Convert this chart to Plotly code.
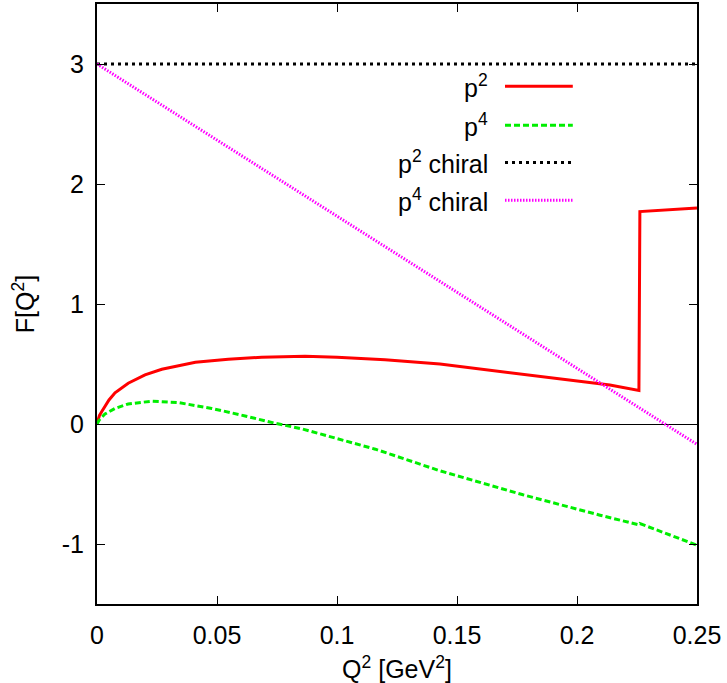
import plotly.graph_objects as go

# p^2 form factor
p2_x = [0, 0.0005, 0.001, 0.002, 0.0033, 0.005, 0.0075, 0.01, 0.013, 0.02, 0.027,
        0.041, 0.0547, 0.0686, 0.0867, 0.1, 0.12, 0.1429, 0.1775, 0.2096, 0.2137,
        0.2258, 0.2262, 0.25]
p2_y = [0, 0.045, 0.07, 0.105, 0.144, 0.2, 0.26, 0.3, 0.34, 0.41, 0.456,
        0.514, 0.54, 0.556, 0.565, 0.557, 0.535, 0.50, 0.415, 0.34, 0.325,
        0.28, 1.77, 1.80]

# p^4 form factor
p4_x = [0, 0.001, 0.0033, 0.0075, 0.013, 0.0228, 0.034, 0.0478, 0.0617, 0.0742,
        0.0853, 0.116, 0.1429, 0.1775, 0.2096, 0.2137, 0.2258, 0.2262, 0.25]
p4_y = [0, 0.035, 0.083, 0.13, 0.167, 0.19, 0.178, 0.13, 0.067, 0.006,
        -0.04, -0.21, -0.39, -0.59, -0.76, -0.78, -0.84, -0.83, -1.01]

# chiral limits
chi2_x = [0, 0.25]
chi2_y = [3.0, 3.0]
chi4_x = [0, 0.25]
chi4_y = [3.0, -0.17]

x_ticks = [0, 0.05, 0.1, 0.15, 0.2, 0.25]
x_labels = ["0", "0.05", "0.1", "0.15", "0.2", "0.25"]
y_ticks = [-1, 0, 1, 2, 3]
y_labels = ["-1", "0", "1", "2", "3"]

series = [
    dict(name="p<sup>2</sup>", x=p2_x, y=p2_y, color="#ff0000", dash="solid"),
    dict(name="p<sup>4</sup>", x=p4_x, y=p4_y, color="#00ee00", dash="6px,3px"),
    dict(name="p<sup>2</sup> chiral", x=chi2_x, y=chi2_y, color="#000000", dash="3px,4px"),
    dict(name="p<sup>4</sup> chiral", x=chi4_x, y=chi4_y, color="#ff00ff", dash="1.5px,1.5px"),
]

font = dict(family="Liberation Sans, Arial, sans-serif", size=25, color="black")

fig = go.Figure()
for s in series:
    fig.add_trace(
        go.Scatter(
            x=s["x"],
            y=s["y"],
            mode="lines",
            name=s["name"],
            line=dict(color=s["color"], width=3, dash=s["dash"]),
            showlegend=False,
        )
    )

# Hand-made legend (text to the left of the sample, as in gnuplot)
legend_y = [0.863, 0.798, 0.736, 0.673]
for s, ly in zip(series, legend_y):
    fig.add_shape(
        type="line",
        xref="paper",
        yref="paper",
        x0=0.68,
        x1=0.793,
        y0=ly,
        y1=ly,
        line=dict(color=s["color"], width=3, dash=s["dash"]),
    )
    fig.add_annotation(
        text=s["name"],
        xref="paper",
        yref="paper",
        x=0.655,
        y=ly,
        xanchor="right",
        yanchor="middle",
        showarrow=False,
        font=font,
    )

axis_common = dict(
    showline=True,
    linecolor="black",
    linewidth=2,
    mirror="ticks",
    ticks="inside",
    ticklen=8,
    tickwidth=1,
    tickcolor="black",
    showgrid=False,
    tickfont=font,
    automargin=False,
)

fig.update_xaxes(
    range=[0, 0.25],
    tickvals=x_ticks,
    ticktext=x_labels,
    zeroline=False,
    ticklabelstandoff=8,
    title=dict(text="Q<sup>2</sup> [GeV<sup>2</sup>]", font=font, standoff=16),
    **axis_common,
)
fig.update_yaxes(
    range=[-1.5, 3.5],
    tickvals=y_ticks,
    ticktext=y_labels,
    zeroline=True,
    zerolinecolor="black",
    zerolinewidth=1,
    ticklabelstandoff=6,
    title=dict(text="F[Q<sup>2</sup>]", font=font, standoff=20),
    **axis_common,
)

fig.update_layout(
    width=727,
    height=683,
    margin=dict(l=97, r=30, t=4, b=79),
    plot_bgcolor="white",
    paper_bgcolor="white",
    font=font,
)

fig.write_html(
    "out.html",
    config={"displayModeBar": False},
    post_script="document.body.style.margin='0px';",
)
